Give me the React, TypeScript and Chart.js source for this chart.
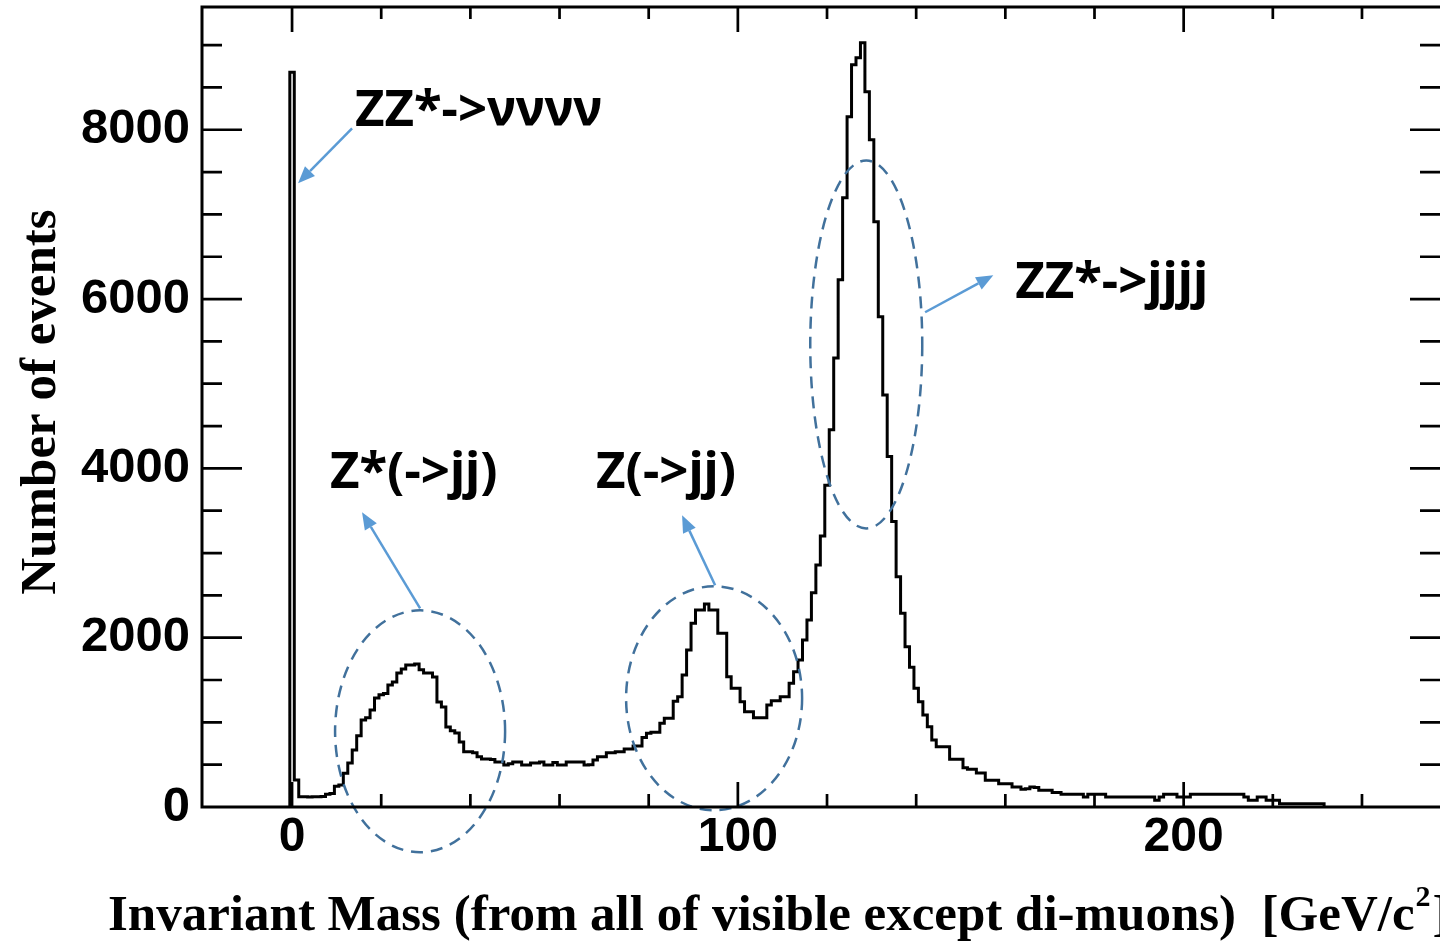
import React, { useEffect, useRef } from "react";
import { Chart, registerables } from "chart.js";

Chart.register(...registerables);

// ---------- data ----------
const BIN_WIDTH = 1; // GeV
const FIRST_BIN_CENTER = 0; // GeV

// bins 0..49
const countsA = [
  8680, 320, 122, 120, 118, 122, 120, 125, 150, 160,
  245, 260, 400, 520, 673, 842, 1028, 1055, 1146, 1288,
  1325, 1340, 1441, 1477, 1583, 1630, 1678, 1678, 1690, 1620,
  1583, 1583, 1536, 1240, 1182, 945, 900, 874, 768, 653,
  653, 640, 594, 567, 567, 560, 532, 532, 496, 510,
];
// bins 50..99
const countsB = [
  532, 532, 496, 496, 520, 520, 532, 496, 496, 525,
  496, 496, 532, 532, 532, 532, 496, 500, 555, 594,
  594, 642, 642, 653, 653, 685, 685, 721, 721, 820,
  870, 882, 882, 989, 1048, 1048, 1250, 1303, 1560, 1855,
  2170, 2328, 2328, 2399, 2328, 2328, 2052, 2052, 1540, 1402,
];
// bins 100..149
const countsC = [
  1402, 1244, 1126, 1126, 1055, 1055, 1055, 1205, 1256, 1256,
  1303, 1303, 1461, 1599, 1737, 1973, 2210, 2532, 2860, 3200,
  3800, 4455, 5305, 6227, 7196, 8153, 8767, 8850, 9027, 8448,
  7881, 6912, 5790, 4868, 4139, 3371, 2721, 2289, 1894, 1651,
  1402, 1244, 1087, 949, 792, 713, 713, 713, 564, 564,
];
// bins 150..199
const countsD = [
  564, 465, 445, 445, 402, 402, 315, 315, 315, 276,
  276, 276, 236, 236, 210, 215, 236, 230, 197, 197,
  197, 172, 172, 150, 150, 150, 150, 150, 118, 150,
  150, 150, 150, 118, 118, 118, 118, 118, 118, 118,
  118, 118, 118, 118, 79, 118, 150, 150, 150, 118,
];
// bins 200..231
const countsE = [
  118, 118, 150, 150, 150, 150, 150, 150, 150, 150,
  150, 150, 150, 150, 118, 79, 79, 118, 118, 79,
  79, 79, 39, 39, 39, 39, 39, 39, 39, 39,
  39, 39,
];

const X_MIN = -20.2;
const X_MAX = 257.5;
const Y_MIN = 0;
const Y_MAX = 9450;
const xLabelTicks = [0, 100, 200];
const yLabelTicks = [0, 2000, 4000, 6000, 8000];
const xMinorTicks = [0, 20, 40, 60, 80, 100, 120, 140, 160, 180, 200, 220, 240];
const yMinorTicks = [500, 1000, 1500, 2000, 2500, 3000, 3500, 4000, 4500, 5000, 5500, 6000, 6500, 7000, 7500, 8000, 8500, 9000];

const xTitleMain = "Invariant Mass (from all of visible except di-muons)  [GeV/c";
const xTitleSup = "2";
const xTitleEnd = "]";
const yTitle = "Number of events";

const annotationTexts = [
  { text: "ZZ*->νννν", x: 14.1, y: 8050 },
  { text: "ZZ*->jjjj", x: 162.2, y: 6009 },
  { text: "Z*(->jj)", x: 8.5, y: 3765 },
  { text: "Z(->jj)", x: 68.2, y: 3765 },
];
const annotationArrows = [
  { x0: 13.46, y0: 8017, x1: 1.35, y1: 7367 },
  { x0: 28.72, y0: 2347, x1: 15.7, y1: 3482 },
  { x0: 94.9, y0: 2619, x1: 87.49, y1: 3446 },
  { x0: 142.0, y0: 5844, x1: 157.3, y1: 6281 },
];
const annotationEllipses = [
  { cx: 28.72, cy: 894, rx: 19.07, ry: 1429 },
  { cx: 94.67, cy: 1284, rx: 19.74, ry: 1323 },
  { cx: 128.8, cy: 5464, rx: 12.56, ry: 2173 },
];

const TITLE_FONT = 'bold 51px "Liberation Serif", "Times New Roman", serif';
const ANNO_FONT = 'bold 51px "Noto Sans", "Open Sans", sans-serif';
const ELLIPSE_COLOR = "#41719C";
const ARROW_COLOR = "#5B9BD5";

function buildHistogramPoints() {
  const counts = [...countsA, ...countsB, ...countsC, ...countsD, ...countsE];
  const firstEdge = FIRST_BIN_CENTER - BIN_WIDTH / 2;
  const pts: { x: number; y: number }[] = [{ x: firstEdge, y: 0 }];
  counts.forEach((c, i) => pts.push({ x: firstEdge + i * BIN_WIDTH, y: c }));
  pts.push({ x: firstEdge + counts.length * BIN_WIDTH, y: 0 });
  return pts;
}

const decorPlugin = {
  id: "decor",
  afterDraw(chart: any) {
    const { ctx, chartArea: a, scales } = chart;
    const xs = scales.x;
    const ys = scales.y;
    ctx.save();

    // ---- annotations ----
    ctx.strokeStyle = ELLIPSE_COLOR;
    ctx.lineWidth = 2.5;
    ctx.setLineDash([12, 8]);
    annotationEllipses.forEach((e) => {
      const cx = xs.getPixelForValue(e.cx);
      const cy = ys.getPixelForValue(e.cy);
      const rx = Math.abs(xs.getPixelForValue(e.cx + e.rx) - cx);
      const ry = Math.abs(ys.getPixelForValue(e.cy + e.ry) - cy);
      ctx.beginPath();
      ctx.ellipse(cx, cy, rx, ry, 0, 0, Math.PI * 2);
      ctx.stroke();
    });
    ctx.setLineDash([]);

    annotationArrows.forEach((ar) => {
      const x0 = xs.getPixelForValue(ar.x0);
      const y0 = ys.getPixelForValue(ar.y0);
      const x1 = xs.getPixelForValue(ar.x1);
      const y1 = ys.getPixelForValue(ar.y1);
      const ang = Math.atan2(y1 - y0, x1 - x0);
      const headLen = 17;
      const headW = 7;
      const bx = x1 - headLen * Math.cos(ang);
      const by = y1 - headLen * Math.sin(ang);
      ctx.strokeStyle = ARROW_COLOR;
      ctx.fillStyle = ARROW_COLOR;
      ctx.lineWidth = 2.5;
      ctx.beginPath();
      ctx.moveTo(x0, y0);
      ctx.lineTo(bx, by);
      ctx.stroke();
      ctx.beginPath();
      ctx.moveTo(x1, y1);
      ctx.lineTo(bx + headW * Math.sin(ang), by - headW * Math.cos(ang));
      ctx.lineTo(bx - headW * Math.sin(ang), by + headW * Math.cos(ang));
      ctx.closePath();
      ctx.fill();
    });

    ctx.fillStyle = "#000";
    ctx.font = ANNO_FONT;
    ctx.textAlign = "left";
    ctx.textBaseline = "alphabetic";
    annotationTexts.forEach((t) => {
      ctx.fillText(t.text, xs.getPixelForValue(t.x), ys.getPixelForValue(t.y));
    });

    // ---- frame ----
    ctx.strokeStyle = "#000";
    ctx.lineWidth = 3;
    ctx.beginPath();
    ctx.rect(a.left, a.top, a.right - a.left + 3, a.bottom - a.top);
    ctx.stroke();

    // ---- inward ticks ----
    ctx.lineWidth = 2.7;
    ctx.beginPath();
    yMinorTicks.forEach((v) => {
      const py = ys.getPixelForValue(v);
      const major = yLabelTicks.includes(v);
      const len = major ? 40 : 20;
      const rlen = major ? 30 : 20;
      ctx.moveTo(a.left, py);
      ctx.lineTo(a.left + len, py);
      ctx.moveTo(a.right, py);
      ctx.lineTo(a.right - rlen, py);
    });
    xMinorTicks.forEach((v) => {
      const px = xs.getPixelForValue(v);
      const major = xLabelTicks.includes(v);
      const len = major ? 25 : 13;
      ctx.moveTo(px, a.bottom);
      ctx.lineTo(px, a.bottom - len);
      ctx.moveTo(px, a.top);
      ctx.lineTo(px, a.top + (major ? 25 : 12));
    });
    ctx.stroke();

    // ---- axis titles ----
    ctx.fillStyle = "#000";
    ctx.font = TITLE_FONT;
    ctx.textBaseline = "alphabetic";
    ctx.textAlign = "left";
    const tx = 108;
    const ty = 930;
    ctx.fillText(xTitleMain, tx, ty);
    const w1 = ctx.measureText(xTitleMain).width;
    ctx.font = 'bold 30px "Liberation Serif", "Times New Roman", serif';
    ctx.fillText(xTitleSup, tx + w1 + 1, ty - 24);
    const w2 = ctx.measureText(xTitleSup).width;
    ctx.font = TITLE_FONT;
    ctx.fillText(xTitleEnd, tx + w1 + w2 + 3, ty);

    ctx.translate(55, 402);
    ctx.rotate(-Math.PI / 2);
    ctx.textAlign = "center";
    ctx.fillText(yTitle, 0, 0);

    ctx.restore();
  },
};

export default function App() {
  const canvasRef = useRef<HTMLCanvasElement | null>(null);

  useEffect(() => {
    const canvas = canvasRef.current;
    if (!canvas) return;
    const chart = new Chart(canvas, {
      type: "line",
      data: {
        datasets: [
          {
            data: buildHistogramPoints(),
            borderColor: "#000",
            borderWidth: 3,
            pointRadius: 0,
            fill: false,
            stepped: true,
            tension: 0,
          },
        ],
      },
      options: {
        responsive: false,
        animation: false,
        events: [],
        layout: { padding: { top: 7, left: 0, right: 0, bottom: 0 } },
        plugins: {
          legend: { display: false },
          tooltip: { enabled: false },
          title: { display: false },
        },
        scales: {
          x: {
            type: "linear",
            min: X_MIN,
            max: X_MAX,
            grid: { display: false, drawTicks: false },
            border: { display: false },
            afterBuildTicks: (s: any) => {
              s.ticks = xLabelTicks.map((v) => ({ value: v }));
            },
            afterFit: (s: any) => {
              s.height = 134;
              s.paddingLeft = 0;
              s.paddingRight = 0;
            },
            ticks: {
              autoSkip: false,
              maxRotation: 0,
              color: "#000",
              padding: 2,
              callback: (v: any) => String(v),
              font: { family: '"Liberation Sans", Arial, sans-serif', size: 48, weight: "bold" },
            },
          },
          y: {
            type: "linear",
            min: Y_MIN,
            max: Y_MAX,
            grid: { display: false, drawTicks: false },
            border: { display: false },
            afterBuildTicks: (s: any) => {
              s.ticks = yLabelTicks.map((v) => ({ value: v }));
            },
            afterFit: (s: any) => {
              s.width = 202;
              s.paddingTop = 0;
              s.paddingBottom = 0;
            },
            ticks: {
              autoSkip: false,
              color: "#000",
              padding: 12,
              callback: (v: any) => String(v),
              font: { family: '"Liberation Sans", Arial, sans-serif', size: 49, weight: "bold" },
            },
          },
        },
      },
      plugins: [decorPlugin],
    });
    return () => chart.destroy();
  }, []);

  return (
    <div style={{ position: "absolute", left: 0, top: 0, width: 1440, height: 941, background: "#fff" }}>
      <canvas ref={canvasRef} width={1440} height={941} style={{ width: 1440, height: 941, display: "block" }} />
    </div>
  );
}
